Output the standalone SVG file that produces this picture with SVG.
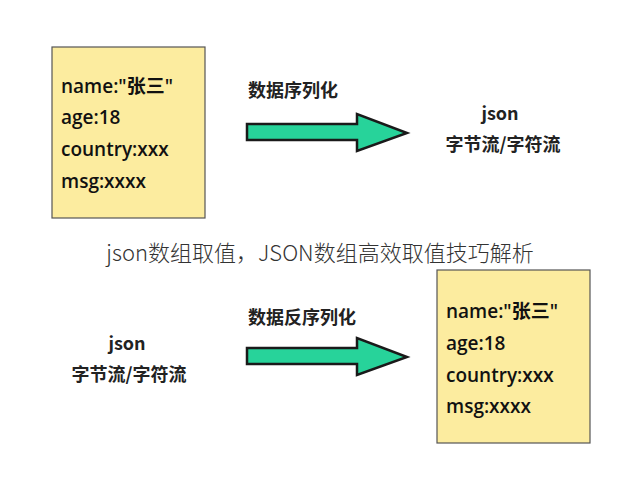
<svg xmlns="http://www.w3.org/2000/svg" width="642" height="490" viewBox="0 0 642 490">
<style>
.box{fill:#fcec9f;stroke:#555;stroke-width:1.2}
.arr{fill:#27d39a;stroke:#1a1a1a;stroke-width:2.5;stroke-linejoin:miter}
.t{font-family:"Open Sans","Noto Sans CJK SC",sans-serif;font-size:19px;fill:#111;font-weight:600}
.l{font-family:"Noto Sans CJK SC",sans-serif;font-size:18px;fill:#222;font-weight:bold}
.c{font-family:"Noto Sans CJK SC",sans-serif;font-size:22px;fill:#333;font-weight:300}
</style>
<rect width="642" height="490" fill="#fff"/>
<g id="box1"><rect class="box" x="52" y="47" width="153" height="171"/>
<text class="t" x="61" y="93">name:"张三"</text><text class="t" x="61" y="124">age:18</text><text class="t" x="61" y="156">country:xxx</text><text class="t" x="61" y="188">msg:xxxx</text></g>
<g id="json1"><text class="l" x="500" y="120" text-anchor="middle">json</text><text class="l" x="503" y="151" text-anchor="middle">字节流/字符流</text></g>
<g id="title"><text class="c" x="320" y="261" text-anchor="middle">json数组取值，JSON数组高效取值技巧解析</text></g>
<g id="json2"><text class="l" x="127" y="350" text-anchor="middle">json</text><text class="l" x="129" y="381" text-anchor="middle">字节流/字符流</text></g>
<g id="box2"><rect class="box" x="437" y="270" width="153" height="173"/>
<text class="t" x="446" y="318">name:"张三"</text><text class="t" x="446" y="350">age:18</text><text class="t" x="446" y="382">country:xxx</text><text class="t" x="446" y="413">msg:xxxx</text></g>
<g id="connectors">
<text class="l" x="248" y="97">数据序列化</text>
<polygon class="arr" points="247,124 357,124 357,114 407,133 357,151 357,140 247,140"/>
<text class="l" x="248" y="324">数据反序列化</text>
<polygon class="arr" points="247,348 357,348 357,338 407,357 357,375 357,364 247,364"/>
</g>
</svg>
